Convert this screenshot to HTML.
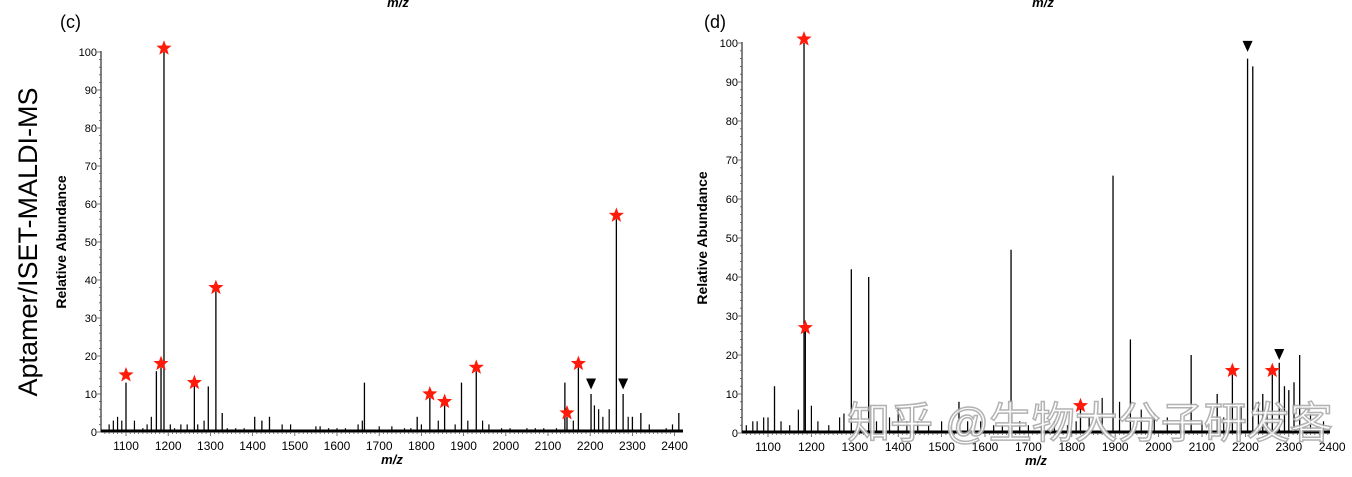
<!DOCTYPE html>
<html><head><meta charset="utf-8"><style>
body{margin:0;background:#fff;width:1352px;height:477px;overflow:hidden}
svg{display:block;font-family:"Liberation Sans",Arial,sans-serif}
</style></head><body>
<svg id="fig" width="1352" height="477" viewBox="0 0 1352 477" xmlns="http://www.w3.org/2000/svg">
<text x="398" y="7" font-size="13" font-weight="bold" font-style="italic" text-anchor="middle">m/z</text>
<text x="1043" y="7" font-size="13" font-weight="bold" font-style="italic" text-anchor="middle">m/z</text>
<text x="60" y="28" font-size="18">(c)</text>
<text x="704" y="28" font-size="18">(d)</text>
<text transform="translate(37,242) rotate(-90)" font-size="27" text-anchor="middle">Aptamer/ISET-MALDI-MS</text>
<g id="gc"></g><g id="gd"></g>
<text x="1090" y="438" font-size="43" text-anchor="middle" fill="#fff" stroke="#aaa" stroke-width="1.5" font-family="'Liberation Sans','Noto Sans CJK SC',sans-serif" opacity="0.9">知乎 @生物大分子研发客</text>
</svg>
<script>
// Panel C data
const cPeaksMz=[1100,1172,1183,1190,1262,1295,1313,1328,1405,1422,1440,1665,1790,1820,1855,1895,1930,2140,2145,2172,2202,2262,2278,2300,2320,2410];
const cPeaksVal=[13,16,17,100,13,12,37,5,4,3,4,13,4,9,7,13,16,13,4,17,10,56,10,4,5,5];
const cStarMz=[1100,1183,1190,1262,1313,1820,1855,1930,2145,2172,2262];
const cStarVal=[15,18,101,13,38,10,8,17,5,18,57];
const cTriMz=[2202,2278];
const cTriVal=[12.5,12.5];
const cNoiseMz=[1060,1070,1080,1090,1120,1140,1150,1160,1205,1215,1230,1245,1270,1285,1340,1360,1380,1470,1490,1550,1560,1580,1600,1620,1650,1660,1700,1730,1760,1775,1800,1840,1880,1910,1945,1960,1990,2010,2050,2070,2090,2120,2160,2210,2220,2230,2245,2290,2340,2380,2395];
const cNoiseVal=[2,3,4,3,3,1,2,4,2,1,2,2,2,3,1,1,1,2,2,1.5,1.5,1,1,1,2,3,1.5,1.5,1,1,2,3,2,3,3,2,1,1,1,1,1,1,3,7,6,4,6,4,2,1,2];
// Panel D data
const dPeaksMz=[1115,1183,1186,1292,1332,1540,1660,1820,1895,1935,2075,2135,2170,2205,2217,2240,2262,2278,2290,2300,2312,2325];
const dPeaksVal=[12,100,27,42,40,8,47,8,66,24,20,10,15,96,94,10,15,18,12,11,13,20];
const dStarMz=[1183,1186,1820,2170,2262];
const dStarVal=[101,27,7,16,16];
const dTriMz=[2205,2278];
const dTriVal=[99,20];
const dNoiseMz=[1050,1065,1075,1090,1100,1130,1150,1170,1200,1215,1240,1265,1275,1310,1350,1380,1400,1420,1445,1470,1500,1520,1560,1590,1620,1640,1680,1700,1730,1760,1790,1810,1840,1870,1910,1960,1990,2020,2050,2100,2150,2190,2230,2250,2350,2380];
const dNoiseVal=[2,3,3,4,4,3,2,6,7,3,2,4,5,4,3,4,7,3,3,2,3,2,3,3,2,2,3,2,2,3,2,3,4,9,8,6,5,4,3,3,4,7,8,6,5,3];

const NS="http://www.w3.org/2000/svg";
function mk(tag,attrs,parent){const e=document.createElementNS(NS,tag);for(const k in attrs)e.setAttribute(k,attrs[k]);parent.appendChild(e);return e;}
function starPath(cx,cy,r){let p="";for(let i=0;i<10;i++){const a=-Math.PI/2+i*Math.PI/5;const rr=i%2?r*0.42:r;p+=(i?"L":"M")+(cx+rr*Math.cos(a)).toFixed(1)+" "+(cy+rr*Math.sin(a)).toFixed(1);}return p+"Z";}
function panel(gid,P){
  const g=document.getElementById(gid);
  const X=m=>P.x0+(m-1100)*P.k, Y=v=>P.yb-(v)*P.ky;
  const ax=mk('line',{x1:P.ax,y1:P.yb,x2:P.ax,y2:Y(100)-1,stroke:'#000','stroke-width':1},g);
  
  
  const xa=mk('line',{x1:P.ax,y1:P.yb,x2:P.xe,y2:P.yb,stroke:'#000','stroke-width':1},g);
  
  
  for(let v=0;v<=100;v+=2){mk('line',{x1:P.ax-(v%10?2:4),y1:Y(v),x2:P.ax,y2:Y(v),stroke:'#555','stroke-width':0.8},g);
    if(v%10===0){const t=mk('text',{x:P.ax-4,y:Y(v)+4,'font-size':11,'text-anchor':'end'},g);t.textContent=v;
      
      }}
  for(let m=1050;m<=2400;m+=10){const x=X(m);if(x<P.ax||x>P.xe)continue;mk('line',{x1:x,y1:P.yb,x2:x,y2:P.yb+(m%100?2:4),stroke:'#555','stroke-width':0.8},g);}
  for(let m=1100;m<=2400;m+=100){const t=mk('text',{x:X(m),y:P.yb+18,'font-size':12,'text-anchor':'middle'},g);t.textContent=m;
    
    }
  const xl=mk('text',{x:(P.ax+P.xe)/2,y:P.yb+32,'font-size':13,'font-weight':'bold','font-style':'italic','text-anchor':'middle'},g);xl.textContent='m/z';
  
  
  const yl=mk('text',{transform:`translate(${P.ax-35},${(P.yb+Y(100))/2}) rotate(-90)`,'font-size':14,'font-weight':'bold','text-anchor':'middle'},g);yl.textContent='Relative Abundance';
  
  
  P.nm.forEach((m,i)=>{const l=mk('line',{x1:X(m),y1:P.yb,x2:X(m),y2:Y(P.nv[i]),stroke:'#000','stroke-width':1.2},g);
    
    });
  mk('rect',{x:P.ax,y:P.yb-2.5,width:P.xe-P.ax,height:2,fill:'#000'},g);
  P.pm.forEach((m,i)=>{const l=mk('line',{x1:X(m),y1:P.yb,x2:X(m),y2:Y(P.pv[i]),stroke:'#000','stroke-width':1.3},g);
    
    });
  P.sm.forEach((m,i)=>{const s=mk('path',{d:starPath(X(m),Y(P.sv[i]),8),fill:'#ff1a0a'},g);
    
    });
  P.tm.forEach((m,i)=>{const x=X(m),y=Y(P.tv[i]);const s=mk('path',{d:`M${x-5} ${y-6}L${x+5} ${y-6}L${x} ${y+5}Z`,fill:'#000'},g);
    
    });
}
panel('gc',{x0:126,k:0.422,ax:101,xe:683,yb:432,ky:3.8,pm:cPeaksMz,pv:cPeaksVal,sm:cStarMz,sv:cStarVal,tm:cTriMz,tv:cTriVal,nm:cNoiseMz,nv:cNoiseVal});
panel('gd',{x0:768,k:0.434,ax:742,xe:1330,yb:433,ky:3.9,pm:dPeaksMz,pv:dPeaksVal,sm:dStarMz,sv:dStarVal,tm:dTriMz,tv:dTriVal,nm:dNoiseMz,nv:dNoiseVal});
</script>
</body></html>
